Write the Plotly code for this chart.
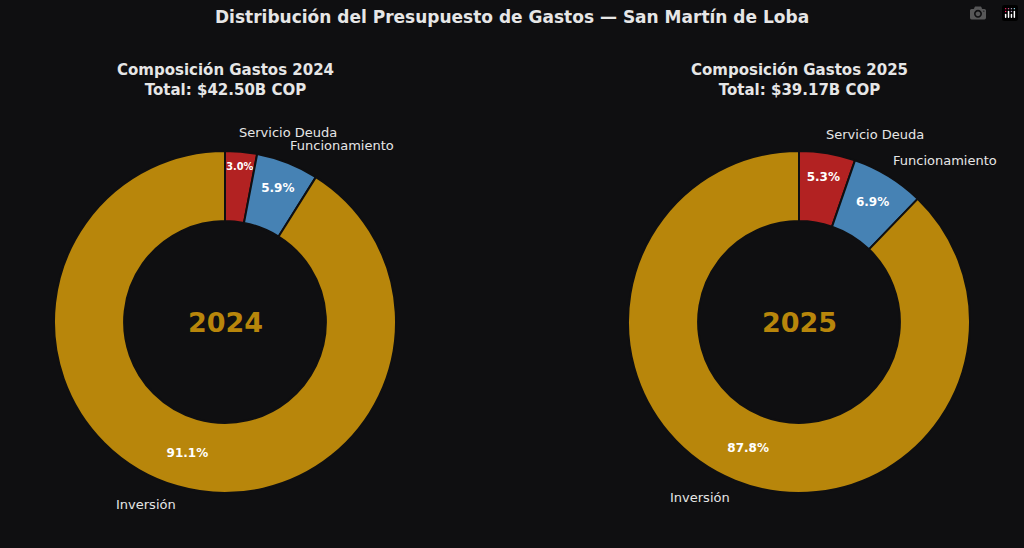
import plotly.graph_objects as go

labels = ["Servicio Deuda", "Funcionamiento", "Inversión"]
values_2024 = [1.28, 2.51, 38.71]
values_2025 = [2.08, 2.70, 34.39]
years = ["2024", "2025"]
totals = ["$42.50B COP", "$39.17B COP"]
colors = ["#b22222", "#4682b4", "#b8860b"]
bg = "#0f0f11"

W, H = 1024, 548
fig = go.Figure()

centers = [(225, 322), (799, 322)]
R = 171
for vals, (cx, cy) in zip([values_2024, values_2025], centers):
    fig.add_trace(go.Pie(
        labels=labels, values=vals, sort=False, direction="clockwise", rotation=0,
        hole=0.59, marker=dict(colors=colors, line=dict(color=bg, width=2)),
        textposition="inside", insidetextorientation="horizontal",
        texttemplate="<b>%{percent:.1%}</b>",
        textfont=dict(color="white", size=12, family="DejaVu Sans"),
        domain=dict(x=[(cx - R) / W, (cx + R) / W], y=[(H - cy - R) / H, (H - cy + R) / H]),
        showlegend=False, hoverinfo="label+value+percent",
    ))

def ann(x, y, text, size=13, color="#e6e6e6", bold=False):
    if bold:
        text = "<b>" + text + "</b>"
    fig.add_annotation(x=x / W, y=1 - y / H, xref="paper", yref="paper", text=text,
                       xanchor="center", yanchor="middle",
                       showarrow=False, font=dict(size=size, color=color))

ann(512, 17, "Distribución del Presupuesto de Gastos — San Martín de Loba", 17, bold=True)
for (cx, cy), yr, tot in zip(centers, years, totals):
    ann(cx, 80, "Composición Gastos " + yr + "<br>Total: " + tot, 15, bold=True)
    ann(cx, cy, yr, 27, color="#b8860b", bold=True)

outside = [[(288, 132), (342, 145), (146, 504)], [(875, 134), (945, 160), (700, 497)]]
for pos in outside:
    for lab, (x, y) in zip(labels, pos):
        ann(x, y, lab, 13)

fig.update_layout(width=W, height=H, paper_bgcolor=bg, plot_bgcolor=bg,
                  margin=dict(l=0, r=0, t=0, b=0),
                  font=dict(family="DejaVu Sans", color="#e6e6e6"))
fig.write_html("out.html", post_script="document.body.style.margin='0';document.body.style.background='#0f0f11';")
